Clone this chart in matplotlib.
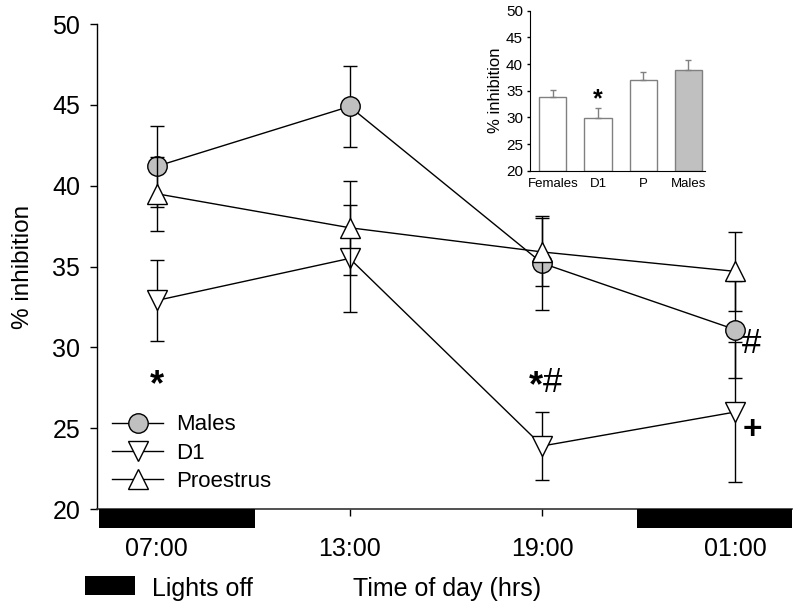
import matplotlib
matplotlib.use("Agg")
import matplotlib.pyplot as plt
from matplotlib.lines import Line2D
from matplotlib.patches import Rectangle

plt.rcParams["font.family"] = ["Liberation Sans", "DejaVu Sans"]

# main panel data
times = ["07:00", "13:00", "19:00", "01:00"]
males = [41.2, 44.9, 35.2, 31.1]
males_err = [2.5, 2.5, 2.9, 3.0]
d1 = [32.9, 35.5, 23.9, 26.0]
d1_err = [2.5, 3.3, 2.1, 4.35]
proestrus = [39.5, 37.4, 35.9, 34.7]
proestrus_err = [2.3, 2.9, 2.1, 2.45]

# lights-off periods (in category units along the time axis)
dark_spans = [(-0.30, 0.51), (2.49, 3.295)]

# significance marks: (x, y, text, size, weight, vertical alignment)
marks = [
    (0.0, 27.65, "*", 26, "bold", "center"),
    (1.965, 27.55, "*", 26, "bold", "center"),
    (2.055, 27.25, "#", 25, "normal", "baseline"),
    (3.085, 29.65, "#", 25, "normal", "baseline"),
    (3.09, 24.85, "+", 24, "bold", "center"),
]

# inset data
groups = ["Females", "D1", "P", "Males"]
group_means = [33.9, 29.8, 36.95, 38.8]
group_err = [1.2, 1.9, 1.55, 1.95]
group_fill = ["white", "white", "white", "#c0c0c0"]

GRAY = "#c0c0c0"


def main():
    fig = plt.figure(figsize=(8, 6.11), dpi=100)
    ax = fig.add_axes([0.12125, 0.1669, 0.86875, 0.7938])

    x = list(range(len(times)))
    common = dict(color="black", lw=1.0, capsize=5, capthick=1.0,
                  elinewidth=1.0, markersize=14, markeredgecolor="black",
                  markeredgewidth=1.0)
    ax.errorbar(x, males, yerr=males_err, fmt="-o", markerfacecolor=GRAY,
                zorder=3, **common)
    ax.errorbar(x, d1, yerr=d1_err, fmt="-v", markerfacecolor="white",
                zorder=4, **common)
    ax.errorbar(x, proestrus, yerr=proestrus_err, fmt="-^",
                markerfacecolor="white", zorder=5, **common)

    ax.set_xlim(-0.31, 3.295)
    ax.set_ylim(20, 50)
    ax.set_yticks(range(20, 51, 5))
    ax.set_xticks(x)
    ax.set_xticklabels(times)
    ax.tick_params(axis="x", length=5, width=1, pad=15, labelsize=18)
    ax.tick_params(axis="y", length=5, width=1, pad=7, labelsize=18)
    ax.set_ylabel("% inhibition", fontsize=17.5, labelpad=13)

    for s in ["top", "right"]:
        ax.spines[s].set_visible(False)
    ax.spines["left"].set_linewidth(1.0)
    ax.spines["bottom"].set_linewidth(1.2)
    ax.spines["bottom"].set_color("#333333")

    for x0, x1 in dark_spans:
        ax.add_patch(Rectangle((x0, 18.82), x1 - x0, 1.18, facecolor="black",
                               edgecolor="none", clip_on=False, zorder=6))

    for mx, my, txt, size, weight, va in marks:
        ax.text(mx, my, txt, fontsize=size, fontweight=weight,
                ha="center", va=va)

    handles = [
        Line2D([], [], color="black", lw=1, marker="o", markersize=14,
               markerfacecolor=GRAY, markeredgecolor="black"),
        Line2D([], [], color="black", lw=1, marker="v", markersize=14,
               markerfacecolor="white", markeredgecolor="black"),
        Line2D([], [], color="black", lw=1, marker="^", markersize=14,
               markerfacecolor="white", markeredgecolor="black"),
    ]
    ax.legend(handles, ["Males", "D1", "Proestrus"], loc="upper left",
              bbox_to_anchor=(0.0216, 0.195), frameon=False, fontsize=16,
              borderpad=0, borderaxespad=0, handlelength=2.3,
              handletextpad=0.6, labelspacing=0.32)

    # bottom labels
    fig.add_artist(Rectangle((0.106, 0.0262), 0.063, 0.0311,
                             facecolor="black", edgecolor="none",
                             transform=fig.transFigure))
    fig.text(0.19, 0.0245, "Lights off", fontsize=18, va="baseline")
    fig.text(0.441, 0.0245, "Time of day (hrs)", fontsize=18, va="baseline")

    # inset
    ins = fig.add_axes([0.6625, 0.7206, 0.219, 0.2619])
    gx = list(range(len(groups)))
    ins.bar(gx, [m - 20 for m in group_means], bottom=20, width=0.6,
            color=group_fill, edgecolor="#808080", linewidth=1.0, zorder=2)
    ins.errorbar(gx, group_means, yerr=[[0] * len(gx), group_err], fmt="none",
                 ecolor="#808080", elinewidth=1.0, capsize=2.5, capthick=1.0,
                 zorder=3)
    ins.text(1, 33.4, "*", fontsize=18, fontweight="bold", ha="center",
             va="center")
    ins.set_xlim(-0.51, 3.38)
    ins.set_ylim(20, 50)
    ins.set_yticks(range(20, 51, 5))
    ins.set_xticks(gx)
    ins.set_xticklabels(groups)
    ins.tick_params(axis="x", length=0, pad=5, labelsize=9.5)
    ins.tick_params(axis="y", length=2, width=1, pad=3, labelsize=11)
    ins.set_ylabel("% inhibition", fontsize=12, labelpad=2)
    for s in ["top", "right"]:
        ins.spines[s].set_visible(False)

    fig.savefig("out.png", dpi=100)


if __name__ == "__main__":
    main()
